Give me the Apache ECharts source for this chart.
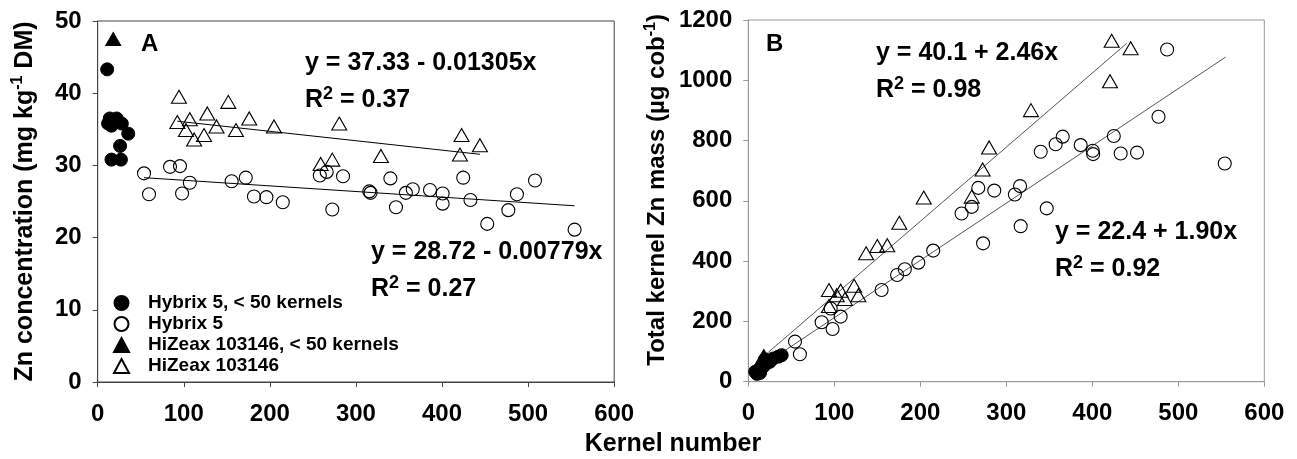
<!DOCTYPE html>
<html><head><meta charset="utf-8">
<script src="https://cdn.jsdelivr.net/npm/echarts@6.0.0/dist/echarts.min.js"></script>
<style>html,body{margin:0;padding:0;background:#fff;}#c{width:1297px;height:459px;}</style>
</head><body><div id="c"></div>
<script>
const FONT = '"Liberation Sans", Arial, Helvetica, sans-serif';

// ---- ticks ----
const xTicks = [0, 100, 200, 300, 400, 500, 600];
const yTicksA = [0, 10, 20, 30, 40, 50];
const yTicksB = [0, 200, 400, 600, 800, 1000, 1200];

const seriesNames = ['Hybrix 5, < 50 kernels', 'Hybrix 5', 'HiZeax 103146, < 50 kernels', 'HiZeax 103146'];

// ---- Panel A: Zn concentration vs kernel number ----
const concHybrixFew = [[11,43.3],[14,36.5],[22,36.5],[16,35.5],[12,35.8],[28,35.8],[35.5,34.4],[26,32.7],[16,30.8],[27,30.8]];
const concHybrix = [[53.8,28.9],[59.6,26.0],[84,29.8],[95.6,29.9],[107,27.6],[98,26.1],[155.6,27.8],[172,28.3],[181.5,25.7],[196,25.6],[215,24.9],[258,28.6],[266,29.1],[285,28.5],[272.5,23.9],[315.5,26.4],[317,26.2],[340,28.2],[346.5,24.2],[358,26.2],[366,26.7],[386,26.6],[400.7,26.1],[400.7,24.7],[424.6,28.3],[433,25.2],[452.5,21.9],[477,23.8],[487,26.0],[508,27.9],[554,21.1]];
const concHiZeaxFew = [[18,47.5]];
const concHiZeax = [[94.4,39.5],[92.5,36.0],[107,36.4],[102.5,34.9],[112,33.6],[123.5,34.2],[127.3,37.2],[138,35.4],[151.7,38.8],[160.6,34.9],[176,36.5],[204.8,35.4],[280.6,35.8],[259,30.2],[272.5,30.8],[329,31.3],[422.7,34.2],[420.8,31.5],[444,32.8]];

// ---- Panel B: total kernel Zn mass vs kernel number ----
const massHybrixFew = [[8,33],[10,26],[13.6,29],[13.6,45],[17.4,50],[21,61],[25,66],[29,77],[35,83],[38.8,88],[19.4,74]];
const massHybrix = [[54.3,133],[60,91],[85.3,197],[95.8,243],[98,175],[107.4,216],[155,304],[173,354],[182,373],[197.7,395],[215,435],[248,558],[259.8,580],[267.4,643],[273,459],[286,634],[310,621],[316,649],[316.7,516],[340,763],[347,575],[357.4,788],[365.6,813],[386.5,785],[400.5,766],[401,755],[425,815],[433,757],[452,760],[477,879],[487,1102],[554,724]];
const massHiZeaxFew = [[18,85]];
const massHiZeax = [[93.8,304],[93.8,251],[102.8,287],[107.4,302],[112.4,274],[123,318],[128,287],[137,426],[150,450],[161.6,453],[175.6,527],[204,611],[259.8,614],[272.5,704],[280,777],[328.7,901],[420.6,997],[422.5,1131],[444.6,1106]];

// ---- fitted regressions (intercept, slope, x range) ----
const fitConcHiZeax = {a: 37.33, b: -0.01305, from: 92.5, to: 444, eq: 'y = 37.33 - 0.01305x', r2: '0.37'};
const fitConcHybrix = {a: 28.72, b: -0.00779, from: 53.8, to: 554, eq: 'y = 28.72 - 0.00779x', r2: '0.27'};
const fitMassHiZeax = {a: 40.1, b: 2.46, from: 15, to: 440, eq: 'y = 40.1 + 2.46x', r2: '0.98'};
const fitMassHybrix = {a: 22.4, b: 1.90, from: 10, to: 555, eq: 'y = 22.4 + 1.90x', r2: '0.92'};

function fitLine(f, gi, color) {
  return {type: 'line', xAxisIndex: gi, yAxisIndex: gi, silent: true, symbol: 'none', z: 1,
    data: [[f.from, f.a + f.b * f.from], [f.to, f.a + f.b * f.to]],
    lineStyle: {color: color, width: 1}};
}
function scat(name, data, gi, filled, tri) {
  return {type: 'scatter', name: name, xAxisIndex: gi, yAxisIndex: gi, data: data, z: 3,
    symbol: tri ? 'triangle' : 'circle', symbolSize: tri ? [15, 13] : 13, symbolKeepAspect: true,
    itemStyle: filled ? {color: '#000', borderColor: '#000', borderWidth: 1, opacity: 1}
                      : {color: 'rgba(255,255,255,0)', borderColor: '#000', borderWidth: 1.1, opacity: 1}};
}
const tickLabel = {fontSize: 24, fontWeight: 'bold', color: '#000', fontFamily: FONT, formatter: function (v) { return String(v); }};
function xAx(gi, col) {
  return {gridIndex: gi, type: 'value', min: xTicks[0], max: xTicks[xTicks.length-1], interval: xTicks[1]-xTicks[0],
    axisLine: {show: true, onZero: false, lineStyle: {color: col, width: 1}},
    axisTick: {show: true, inside: false, length: 5, lineStyle: {color: col}},
    axisLabel: Object.assign({margin: 20}, tickLabel), splitLine: {show: false}};
}
function richName(fs) {
  return {
    n: {fontSize: fs, fontWeight: 'bold', color: '#000', fontFamily: FONT, lineHeight: fs + 3, verticalAlign: 'bottom'},
    s: {fontSize: 16, fontWeight: 'bold', color: '#000', fontFamily: FONT, lineHeight: 16, verticalAlign: 'top'}
  };
}
function yAx(gi, col, ticks, name, gap, fs, pad) {
  return {gridIndex: gi, type: 'value', min: ticks[0], max: ticks[ticks.length-1], interval: ticks[1]-ticks[0],
    axisLine: {show: true, lineStyle: {color: col, width: 1}},
    axisTick: {show: true, inside: false, length: 5, lineStyle: {color: col}},
    axisLabel: Object.assign({margin: 16}, tickLabel), splitLine: {show: false},
    name: name, nameLocation: 'middle', nameRotate: 90, nameGap: gap,
    nameTextStyle: {rich: richName(fs), padding: pad}};
}
const eqStyle = {fontSize: 25, fontWeight: 'bold', fill: '#000', fontFamily: FONT};
function eqText(f, x, y) {
  return [
    {type: 'text', x: x, y: y, style: Object.assign({text: f.eq}, eqStyle)},
    {type: 'text', x: x, y: y + 34, style: {text: '{n|R}{s|2}{n| = ' + f.r2 + '}',
      rich: {n: {fontSize: 25, fontWeight: 'bold', fill: '#000', fontFamily: FONT, lineHeight: 28, verticalAlign: 'bottom'},
             s: {fontSize: 18, fontWeight: 'bold', fill: '#000', fontFamily: FONT, lineHeight: 18, verticalAlign: 'top'}}}}
  ];
}

const chart = echarts.init(document.getElementById('c'), null, {renderer: 'canvas'});
chart.setOption({
  animation: false,
  backgroundColor: '#fff',
  grid: [
    {left: 97.7, top: 21, width: 516.5, height: 361, show: true, borderColor: '#444', borderWidth: 1},
    {left: 748.3, top: 20, width: 516, height: 361.7, show: true, borderColor: '#999', borderWidth: 1}
  ],
  xAxis: [xAx(0, '#444'), xAx(1, '#999')],
  yAxis: [
    yAx(0, '#444', yTicksA, '{n|Zn concentration (mg kg}{s|-1}{n| DM)}', 60, 25, [0, 0, 0, 0]),
    yAx(1, '#999', yTicksB, '{n|Total kernel Zn mass (µg cob}{s|-1}{n|)}', 79, 24, [0, 0, 0, 22])
  ],
  legend: {
    orient: 'vertical', left: 108, top: 288, itemWidth: 15, itemHeight: 14, itemGap: 1,
    data: seriesNames, selectedMode: false,
    textStyle: {fontSize: 19, fontWeight: 'bold', color: '#000', fontFamily: FONT, lineHeight: 20, padding: [0, 0, 0, 14]}
  },
  series: [
    fitLine(fitConcHiZeax, 0, '#000'), fitLine(fitConcHybrix, 0, '#000'),
    scat(seriesNames[0], concHybrixFew, 0, true, false),
    scat(seriesNames[1], concHybrix, 0, false, false),
    scat(seriesNames[2], concHiZeaxFew, 0, true, true),
    scat(seriesNames[3], concHiZeax, 0, false, true),
    fitLine(fitMassHiZeax, 1, '#555'), fitLine(fitMassHybrix, 1, '#555'),
    scat(seriesNames[0], massHybrixFew, 1, true, false),
    scat(seriesNames[1], massHybrix, 1, false, false),
    scat(seriesNames[2], massHiZeaxFew, 1, true, true),
    scat(seriesNames[3], massHiZeax, 1, false, true)
  ],
  graphic: [
    {type: 'text', x: 141, y: 32, style: {text: 'A', fontSize: 24, fontWeight: 'bold', fill: '#000', fontFamily: FONT}},
    {type: 'text', x: 766, y: 32, style: {text: 'B', fontSize: 24, fontWeight: 'bold', fill: '#000', fontFamily: FONT}},
    {type: 'text', x: 673, y: 432, style: {text: 'Kernel number', textAlign: 'center', fontSize: 25, fontWeight: 'bold', fill: '#000', fontFamily: FONT}}
  ].concat(eqText(fitConcHiZeax, 305, 51), eqText(fitConcHybrix, 371, 240),
           eqText(fitMassHiZeax, 876, 41), eqText(fitMassHybrix, 1055, 220))
});
</script></body></html>
